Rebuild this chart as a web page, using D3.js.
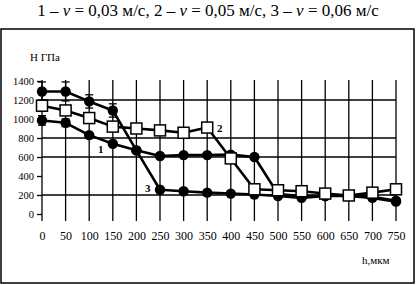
<!DOCTYPE html>
<html><head><meta charset="utf-8">
<script src="https://cdn.jsdelivr.net/npm/d3@7"></script>
<style>
html,body{margin:0;padding:0;background:#fff;}
svg{display:block;}
svg text{font-family:'Liberation Serif','DejaVu Serif','Times New Roman',Times,serif !important;fill:#000;}
</style></head>
<body>
<svg id="c" width="416" height="285" font-family="Liberation Serif, DejaVu Serif, serif"></svg>
<script>
const categories = [0,50,100,150,200,250,300,350,400,450,500,550,600,650,700,750];
const yTicks = [0,200,400,600,800,1000,1200,1400];
const yGrid = [200,600,800,1200];
// 1 – v = 0,03 м/с (filled circles)
const series1 = [985,960,830,740,670,610,620,620,625,600,210,190,190,200,180,140];
const err1    = [50,40,0,0,0,0,0,0,0,0,0,0,0,0,0,0];
// 2 – v = 0,05 м/с (open squares)
const series2 = [1140,1090,1010,920,900,880,855,910,585,260,250,240,215,195,225,260];
const err2    = [60,50,0,0,0,0,0,0,0,0,0,0,0,0,0,0];
// 3 – v = 0,06 м/с (filled circles)
const series3 = [1290,1290,1185,1090,670,255,240,225,215,205,190,170,190,190,170,130];
const err3    = [100,100,70,70,0,0,0,0,0,0,0,0,0,0,0,0];
const seriesLabels = ["1","2","3"];

const SERIF = "'Liberation Serif','DejaVu Serif',serif";
const svg = d3.select("#c");
const x = d3.scalePoint().domain(categories).range([42,396]);
const y = d3.scaleLinear().domain([0,1400]).range([214,81]);

// frame
svg.append("rect").attr("x",1).attr("y",29).attr("width",413).attr("height",254)
  .attr("fill","none").attr("stroke","#000").attr("stroke-width",1.5);

// title
const t = svg.append("text").attr("x",208).attr("y",16).attr("text-anchor","middle")
  .style("font-size","17px").style("font-family",SERIF);
t.append("tspan").text("1 – ");
t.append("tspan").style("font-style","italic").text("v");
t.append("tspan").text(" = 0,03 м/с, 2 – ");
t.append("tspan").style("font-style","italic").text("v");
t.append("tspan").text(" = 0,05 м/с, 3 – ");
t.append("tspan").style("font-style","italic").text("v");
t.append("tspan").text(" = 0,06 м/с");

// vertical gridlines
svg.append("g").selectAll("line").data(categories).join("line")
  .attr("x1",d=>x(d)).attr("x2",d=>x(d)).attr("y1",y(1400)-1).attr("y2",y(0)+7)
  .attr("stroke","#000").attr("stroke-width",1.3);
// horizontal gridlines
svg.append("g").selectAll("line").data(yGrid).join("line")
  .attr("x1",x(0)).attr("x2",x(750)).attr("y1",d=>y(d)).attr("y2",d=>y(d))
  .attr("stroke","#000").attr("stroke-width",1.3);

// y axis ticks & labels
const ya = svg.append("g").attr("transform",`translate(${x(0)},0)`)
  .call(d3.axisLeft(y).tickValues(yTicks).tickSize(5).tickPadding(3).tickFormat(d3.format("d")));
ya.attr("font-family",SERIF);
ya.select(".domain").remove();
ya.selectAll("line").attr("stroke-width",1.3);
ya.selectAll("text").style("font-size","10.5px").style("font-family",SERIF);

// x axis labels
const xa = svg.append("g").attr("transform",`translate(0,${y(0)+12})`)
  .call(d3.axisBottom(x).tickSize(0).tickPadding(5));
xa.attr("font-family",SERIF);
xa.select(".domain").remove();
xa.selectAll("text").style("font-size","12px").style("font-family",SERIF);

// axis titles
svg.append("text").attr("x",30).attr("y",61).style("font-size","11px").style("font-family",SERIF).text("Н ГПа");
svg.append("text").attr("x",362).attr("y",264).style("font-size","11px").style("font-family",SERIF).text("h,мкм");

const line = d3.line().x((d,i)=>x(categories[i])).y(d=>y(d));
const all = [
  {vals:series1, err:err1, shape:"circle"},
  {vals:series3, err:err3, shape:"circle"},
  {vals:series2, err:err2, shape:"square"}
];
all.forEach(s=>{
  svg.append("path").datum(s.vals).attr("d",line).attr("fill","none")
    .attr("stroke","#000").attr("stroke-width",2.6).attr("stroke-linejoin","round");
});
all.forEach(s=>{
  const g = svg.append("g");
  s.vals.forEach((v,i)=>{
    const e = s.err[i];
    if(e>0){
      const cx = x(categories[i]);
      g.append("line").attr("x1",cx).attr("x2",cx).attr("y1",y(v-e)).attr("y2",y(v+e))
        .attr("stroke","#000").attr("stroke-width",1.3);
      [v-e,v+e].forEach(w=>g.append("line").attr("x1",cx-4).attr("x2",cx+4)
        .attr("y1",y(w)).attr("y2",y(w)).attr("stroke","#000").attr("stroke-width",1.3));
    }
  });
});
all.forEach(s=>{
  const g = svg.append("g");
  if(s.shape==="circle"){
    g.selectAll("circle").data(s.vals).join("circle")
      .attr("cx",(d,i)=>x(categories[i])).attr("cy",d=>y(d)).attr("r",5.2).attr("fill","#000");
  } else {
    g.selectAll("rect").data(s.vals).join("rect")
      .attr("x",(d,i)=>x(categories[i])-5.5).attr("y",d=>y(d)-5.5)
      .attr("width",11).attr("height",11).attr("fill","#fff")
      .attr("stroke","#000").attr("stroke-width",1.5);
  }
});

// series labels
svg.append("text").attr("x",98).attr("y",153).style("font-size","11px").style("font-weight","bold").style("font-family",SERIF).text(seriesLabels[0]);
svg.append("text").attr("x",217).attr("y",132).style("font-size","11px").style("font-weight","bold").style("font-family",SERIF).text(seriesLabels[1]);
svg.append("text").attr("x",145).attr("y",192).style("font-size","11px").style("font-weight","bold").style("font-family",SERIF).text(seriesLabels[2]);
</script>
</body></html>
